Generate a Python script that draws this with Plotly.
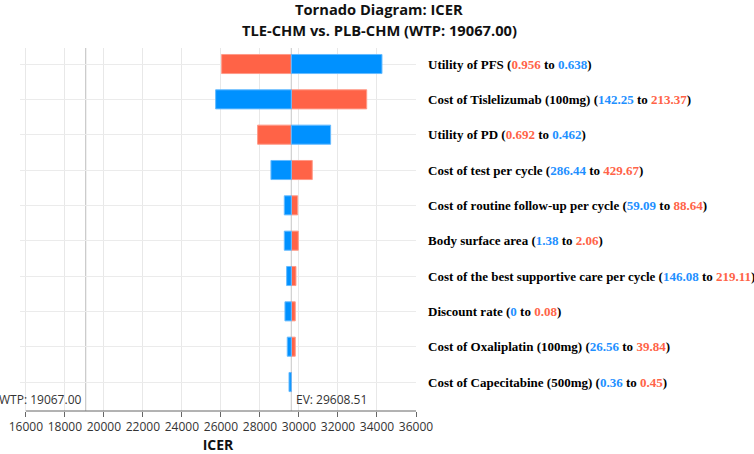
import plotly.graph_objects as go

# data
params = [
    "Utility of PFS",
    "Cost of Tislelizumab (100mg)",
    "Utility of PD",
    "Cost of test per cycle",
    "Cost of routine follow-up per cycle",
    "Body surface area",
    "Cost of the best supportive care per cycle",
    "Discount rate",
    "Cost of Oxaliplatin (100mg)",
    "Cost of Capecitabine (500mg)",
]
blue_vals = ["0.638", "142.25", "0.462", "286.44", "59.09", "1.38", "146.08", "0", "26.56", "0.36"]
red_vals = ["0.956", "213.37", "0.692", "429.67", "88.64", "2.06", "219.11", "0.08", "39.84", "0.45"]
red_first = [True, False, True, False, False, False, False, False, False, False]
blue_icer = [34256, 25728, 31624, 28564, 29248, 29248, 29368, 29282, 29400, 29490]
red_icer = [26036, 33472, 27880, 30682, 29932, 29966, 29846, 29810, 29810, 29615]

EV = 29608.51
WTP = 19067.00
tick_vals = list(range(16000, 36001, 2000))

RED = "#FF6347"
BLUE = "#0091FF"
RED_TXT = "#FF6347"
BLUE_TXT = "#1E90FF"

fig = go.Figure()

fig.add_trace(go.Bar(
    y=params,
    x=[v - EV for v in red_icer],
    base=EV,
    orientation="h",
    width=0.54,
    marker=dict(color=RED, line=dict(color="#FF9A88", width=1)),
    hoverinfo="skip",
))
fig.add_trace(go.Bar(
    y=params,
    x=[v - EV for v in blue_icer],
    base=EV,
    orientation="h",
    width=0.54,
    marker=dict(color=BLUE, line=dict(color="#66BBFF", width=1)),
    hoverinfo="skip",
))

# vertical reference lines
fig.add_vline(x=WTP, line=dict(color="#C8C8C8", width=1.2), layer="below")
fig.add_vline(x=EV, line=dict(color="#D0D0D0", width=1.2), layer="below")

# x axis line only over the tick range
fig.add_shape(type="line", xref="x", yref="paper",
              x0=tick_vals[0], x1=tick_vals[-1], y0=0, y1=0,
              line=dict(color="#666666", width=1))

# right-hand parameter labels
for name, b, r, rf in zip(params, blue_vals, red_vals, red_first):
    bs = f"<span style='color:{BLUE_TXT}'>{b}</span>"
    rs = f"<span style='color:{RED_TXT}'>{r}</span>"
    first, second = (rs, bs) if rf else (bs, rs)
    fig.add_annotation(
        x=36000, y=name, xref="x", yref="y",
        xanchor="left", xshift=10, showarrow=False,
        text=f"<b>{name} ({first} to {second})</b>",
        font=dict(family="Liberation Serif", size=13, color="black"),
    )

# titles (centred on the page)
title_x = (379 - 20) / 396
fig.add_annotation(x=title_x, y=1.107, xref="paper", yref="paper",
                   xanchor="center", yanchor="middle", showarrow=False,
                   text="<b>Tornado Diagram: ICER</b>",
                   font=dict(family="Open Sans", size=14.7, color="#111"))
fig.add_annotation(x=title_x, y=1.049, xref="paper", yref="paper",
                   xanchor="center", yanchor="middle", showarrow=False,
                   text="<b>TLE-CHM vs. PLB-CHM (WTP: 19067.00)</b>",
                   font=dict(family="Open Sans", size=14.7, color="#111"))

# WTP / EV labels
fig.add_annotation(x=WTP, y=0.033, xref="x", yref="paper",
                   xanchor="right", xshift=-3, yanchor="middle", showarrow=False,
                   text=f"WTP: {WTP:.2f}",
                   font=dict(family="Open Sans", size=12, color="#333"))
fig.add_annotation(x=EV, y=0.033, xref="x", yref="paper",
                   xanchor="left", xshift=3, yanchor="middle", showarrow=False,
                   text=f"EV: {EV:.2f}",
                   font=dict(family="Open Sans", size=12, color="#333"))

fig.update_layout(
    width=754, height=454,
    margin=dict(l=20, r=338, t=48, b=43),
    paper_bgcolor="white", plot_bgcolor="white",
    barmode="overlay",
    showlegend=False,
    font=dict(family="Open Sans", size=12, color="#333"),
)
fig.update_xaxes(
    range=[15700, 36000],
    tickvals=tick_vals,
    ticktext=[str(v) for v in tick_vals],
    ticks="outside", ticklen=5, tickcolor="#666666",
    showgrid=True, gridcolor="#E8E8E8", gridwidth=1,
    zeroline=False, showline=False, automargin=False,
    tickfont=dict(family="Open Sans", size=12, color="#333"),
    title=dict(text="<b>ICER</b>", font=dict(family="Open Sans", size=14, color="#111"), standoff=0),
)
fig.update_yaxes(
    categoryorder="array", categoryarray=params,
    range=[9.82, -0.453],
    showticklabels=False, automargin=False,
    showgrid=True, gridcolor="#EBEBEB", gridwidth=1,
    zeroline=False, showline=False,
)

# drop the default page margin so the figure sits at the window corner
fig.write_html("out.html", config={"displayModeBar": False},
               post_script="document.body.style.margin='0';")
